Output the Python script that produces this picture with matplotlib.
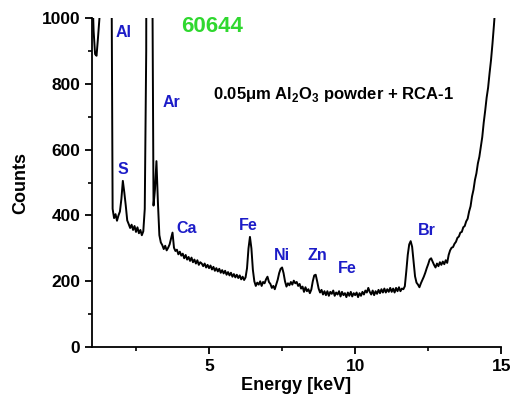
import matplotlib
matplotlib.use('Agg')
import matplotlib.pyplot as plt
from matplotlib.ticker import MultipleLocator
import numpy as np

plt.rcParams['font.family'] = ['Liberation Sans', 'DejaVu Sans']
plt.rcParams['mathtext.fontset'] = 'custom'
plt.rcParams['mathtext.rm'] = 'Liberation Sans'
plt.rcParams['mathtext.bf'] = 'Liberation Sans:bold'

# EDX spectrum, one value every 0.05 keV from 1.00 to 15.00 keV
energy = np.round(np.linspace(1.0, 15.0, 281), 2)
counts = [
    # 1.00 - 1.95
    1100, 960, 890, 885, 940, 1000, 1200, 2000, 3000, 4000,
    5000, 3000, 2000, 1400, 420, 392, 404, 384, 400, 412,
    # 2.00 - 2.95
    450, 505, 470, 430, 385, 374, 362, 372, 356, 368,
    350, 364, 346, 356, 340, 352, 420, 900, 4000, 6000,
    # 3.00 - 3.95
    4000, 1300, 430, 480, 565, 440, 340, 318, 310, 298,
    308, 294, 302, 312, 330, 348, 302, 292, 296, 282,
    # 4.00 - 4.95
    290, 278, 284, 270, 280, 266, 274, 262, 272, 258,
    266, 254, 264, 250, 258, 254, 246, 254, 242, 250,
    # 5.00 - 5.95
    240, 248, 236, 244, 232, 240, 230, 238, 226, 234,
    224, 232, 220, 228, 218, 226, 214, 222, 212, 220,
    # 6.00 - 6.95
    210, 218, 206, 214, 204, 212, 240, 300, 335, 300,
    235, 200, 186, 196, 190, 200, 186, 198, 194, 206,
    # 7.00 - 7.95
    214, 198, 192, 180, 186, 176, 190, 205, 225, 238,
    242, 225, 200, 184, 194, 188, 198, 190, 202, 194,
    # 8.00 - 8.95
    198, 186, 192, 178, 184, 168, 182, 170, 176, 164,
    175, 200, 218, 220, 200, 178, 166, 174, 160, 170,
    # 9.00 - 9.95
    158, 170, 156, 168, 162, 172, 156, 166, 160, 170,
    154, 168, 158, 164, 152, 166, 156, 168, 154, 164,
    # 10.00 - 10.95
    158, 166, 152, 164, 156, 168, 160, 172, 166, 180,
    168, 160, 172, 158, 170, 162, 174, 164, 176, 166,
    # 11.00 - 11.95
    178, 166, 176, 168, 180, 168, 178, 166, 180, 170,
    182, 170, 178, 176, 185, 230, 280, 312, 322, 305,
    # 12.00 - 12.95
    260, 215, 196, 190, 182, 194, 204, 214, 226, 240,
    252, 266, 270, 260, 250, 242, 254, 246, 258, 250,
    # 13.00 - 13.95
    260, 252, 264, 256, 280, 294, 302, 304, 314, 320,
    332, 336, 348, 350, 364, 368, 382, 390, 412, 428,
    # 14.00 - 14.95
    458, 478, 508, 528, 558, 578, 608, 638, 682, 718,
    758, 788, 832, 872, 922, 978, 1040, 1100, 1170, 1240,
    # 15.00
    1300,
]

# element labels (text, x keV, y counts)
elements = ['Al', 'Ar', 'S', 'Ca', 'Fe', 'Ni', 'Zn', 'Fe', 'Br']
label_x = [1.79, 3.40, 1.86, 3.88, 6.03, 7.23, 8.36, 9.42, 12.13]
label_y = [957, 742, 541, 359, 371, 277, 277, 240, 353]

fig = plt.figure(figsize=(5.12, 4.07), dpi=100)
ax = fig.add_axes([0.180, 0.147, 0.799, 0.809])

ax.plot(energy, counts, color='black', linewidth=1.4)

for name, lx, ly in zip(elements, label_x, label_y):
    ax.text(lx, ly, name, color='#1c1cc8', fontsize=11.5, fontweight='bold',
            ha='left', va='center')

ax.text(4.05, 975, '60644', color='#2fd82f', fontsize=16, fontweight='bold',
        ha='left', va='center')
ax.text(5.14, 766, r'0.05μm Al$_\mathbf{2}$O$_\mathbf{3}$ powder + RCA-1',
        color='black', fontsize=12, fontweight='bold', ha='left', va='center')

ax.set_xlim(1, 15)
ax.set_ylim(0, 1000)
ax.xaxis.set_major_locator(MultipleLocator(5))
ax.xaxis.set_minor_locator(MultipleLocator(2.5))
ax.yaxis.set_major_locator(MultipleLocator(200))
ax.yaxis.set_minor_locator(MultipleLocator(100))

ax.spines['top'].set_visible(False)
ax.spines['right'].set_visible(False)
for s in ['left', 'bottom']:
    ax.spines[s].set_linewidth(1.3)

ax.tick_params(which='major', direction='out', length=5, width=1.3, labelsize=12.5)
ax.tick_params(which='minor', direction='out', length=3, width=1.2)
for lab in ax.get_xticklabels() + ax.get_yticklabels():
    lab.set_fontweight('bold')

ax.set_xlabel('Energy [keV]', fontsize=13, fontweight='bold')
ax.set_ylabel('Counts', fontsize=13, fontweight='bold')
ax.xaxis.set_label_coords(0.499, -0.09)
ax.yaxis.set_label_coords(-0.155, 0.5)

fig.savefig('out.png', dpi=100)
